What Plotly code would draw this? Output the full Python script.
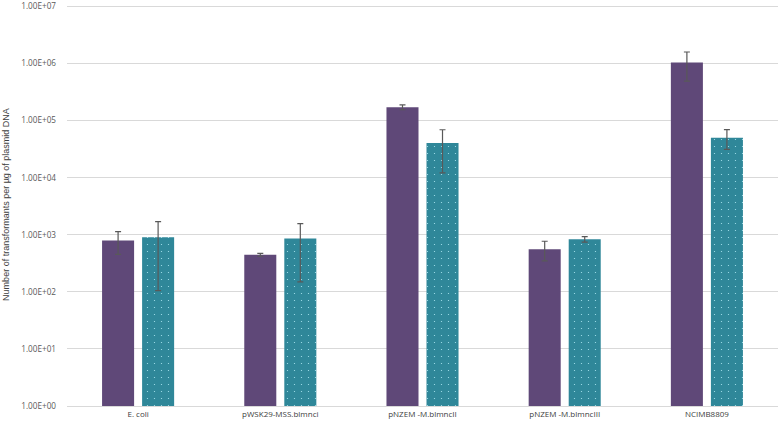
import plotly.graph_objects as go

categories = ["E. coli", "pWSK29-MSS.blmnci", "pNZEM -M.blmncII", "pNZEM -M.blmncIII", "NCIMB8809"]
series1_values = [794, 445, 171800, 560, 1040000]
series1_errors = [340, 25, 17000, 210, 550000]
series2_values = [905, 859, 40600, 835, 50200]
series2_errors = [800, 710, 28500, 90, 19000]
tick_values = [1, 10, 100, 1000, 10000, 100000, 1000000, 10000000]
tick_labels = ["1.00E+00", "1.00E+01", "1.00E+02", "1.00E+03", "1.00E+04", "1.00E+05", "1.00E+06", "1.00E+07"]

fig = go.Figure()
fig.add_trace(go.Bar(
    x=categories, y=series1_values,
    marker=dict(color="#5f4878", line=dict(width=0)),
    error_y=dict(type="data", array=series1_errors, color="#595959", thickness=1.2, width=3),
    showlegend=False,
))
fig.add_trace(go.Bar(
    x=categories, y=series2_values,
    marker=dict(color="#2f8799", line=dict(width=0),
                pattern=dict(shape=".", fgcolor="#b5eef8", fgopacity=0.9, size=7, solidity=0.025, fillmode="overlay")),
    error_y=dict(type="data", array=series2_errors, color="#595959", thickness=1.2, width=3),
    showlegend=False,
))

fig.update_layout(
    width=778, height=422,
    margin=dict(l=67, r=0, t=0, b=16),
    paper_bgcolor="white", plot_bgcolor="white",
    barmode="group", bargap=0.437, bargroupgap=0.2,
    font=dict(family="Open Sans, Arial", size=8, color="#595959"),
)
fig.update_xaxes(
    showgrid=False, showline=True, linecolor="#d9d9d9", linewidth=1,
    ticks="", tickfont=dict(size=8, color="#404040"),
)
fig.update_yaxes(
    type="log", range=[0, 7.06],
    tickvals=tick_values, ticktext=tick_labels,
    showgrid=True, gridcolor="#d9d9d9", gridwidth=1,
    zeroline=False, showline=False, ticks="",
    tickfont=dict(size=8.2, color="#595959"),
    ticklabeloverflow="allow", ticklabelstandoff=10,
    title=dict(text="Number of transformants per µg of plasmid DNA",
               font=dict(family="Liberation Sans, Arial, sans-serif", size=9, color="#404040"),
               standoff=10),
)

fig.write_html("out.html", config={"displayModeBar": False},
               post_script="document.body.style.margin='0';document.body.style.padding='0';")
